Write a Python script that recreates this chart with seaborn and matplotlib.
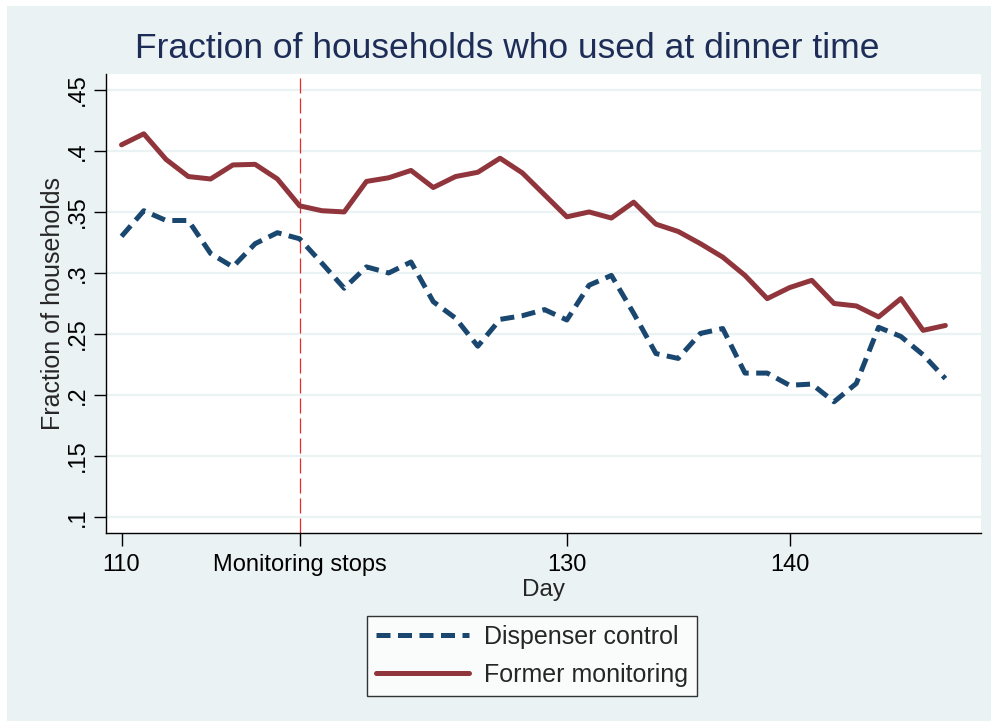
import matplotlib
matplotlib.use("Agg")
import matplotlib.pyplot as plt
from matplotlib.patches import Rectangle
import seaborn as sns
import pandas as pd

sns.set_style("white")
plt.rcParams["font.family"] = ["Liberation Sans", "DejaVu Sans"]

# values
days = list(range(110, 148))
dispenser_control = [0.330, 0.351, 0.343, 0.343, 0.316, 0.305, 0.324, 0.333, 0.328, 0.308,
                     0.2875, 0.305, 0.300, 0.309, 0.2765, 0.263, 0.240, 0.262, 0.265, 0.270,
                     0.2615, 0.290, 0.298, 0.267, 0.234, 0.230, 0.2505, 0.2545, 0.218, 0.218,
                     0.208, 0.209, 0.1945, 0.2095, 0.2555, 0.248, 0.233, 0.2135]
former_monitoring = [0.405, 0.414, 0.393, 0.379, 0.377, 0.3885, 0.389, 0.377, 0.355, 0.351,
                     0.350, 0.375, 0.378, 0.384, 0.370, 0.379, 0.3825, 0.394, 0.382, 0.364,
                     0.346, 0.350, 0.345, 0.358, 0.340, 0.334, 0.324, 0.313, 0.298, 0.279,
                     0.288, 0.294, 0.275, 0.273, 0.264, 0.279, 0.253, 0.257]
groups = ["Dispenser control", "Former monitoring"]
monitoring_stop_day = 118
x_tick_values = [110, 118, 130, 140]
x_tick_labels = ["110", "Monitoring stops", "130", "140"]
y_tick_values = [0.10, 0.15, 0.20, 0.25, 0.30, 0.35, 0.40, 0.45]
y_tick_labels = [".1", ".15", ".2", ".25", ".3", ".35", ".4", ".45"]

df = pd.DataFrame({
    "Day": days * 2,
    "Fraction": dispenser_control + former_monitoring,
    "Group": [groups[0]] * len(days) + [groups[1]] * len(days),
})

W, H = 997, 727
fig = plt.figure(figsize=(W / 100, H / 100), dpi=100, facecolor="white")
fig.patches.append(Rectangle((7 / W, 6 / H), 1 - 13 / W, 1 - 12 / H, transform=fig.transFigure,
                             facecolor="#EAF2F3", edgecolor="none", zorder=-10))
ax = fig.add_axes([105.5 / W, 1 - 533 / H, (981 - 105.5) / W, (533 - 74) / H])
ax.set_facecolor("white")

ax.axvline(monitoring_stop_day, color="#E8282B", lw=0.9, dashes=(12, 4), zorder=1)

sns.lineplot(df, x="Day", y="Fraction", hue="Group", style="Group", hue_order=groups,
             style_order=groups, palette=["#1A476F", "#90353B"],
             dashes={groups[0]: (2.8, 1.5), groups[1]: ""}, lw=3.6, ax=ax, zorder=3)

ax.set_xlim(109.28, 148.6)
ax.set_ylim(0.087, 0.463)
ax.set_xticks(x_tick_values)
ax.set_xticklabels(x_tick_labels)
ax.set_yticks(y_tick_values)
ax.set_yticklabels(y_tick_labels, rotation=90, va="center")
ax.tick_params(axis="both", bottom=True, left=True, length=9, width=1, direction="out",
               labelsize=17, colors="black")
ax.tick_params(axis="x", pad=6)
ax.tick_params(axis="y", pad=3)
ax.grid(axis="y", color="#EAF2F3", lw=1.6)
ax.set_axisbelow(True)
for side in ["top", "right"]:
    ax.spines[side].set_visible(False)
for side in ["left", "bottom"]:
    ax.spines[side].set_color("black")
    ax.spines[side].set_linewidth(1)

ax.set_xlabel("Day", fontsize=17.5, labelpad=2)
ax.set_ylabel("Fraction of households", fontsize=18, labelpad=1)
fig.text(507 / W, 1 - 48 / H, "Fraction of households who used at dinner time",
         ha="center", va="center", fontsize=25.5, color="#1E2D57")

handles, labels = ax.get_legend_handles_labels()
ax.get_legend().remove()
leg = fig.legend(handles, labels, loc="center", bbox_to_anchor=(532 / W, 1 - 656 / H),
                 fontsize=18, frameon=True, fancybox=False, edgecolor="black",
                 handlelength=3.75, labelspacing=0.55, borderpad=0.35, handletextpad=0.6,
                 borderaxespad=0)
leg.get_frame().set_linewidth(1)

fig.savefig("out.png", dpi=100, facecolor=fig.get_facecolor())
